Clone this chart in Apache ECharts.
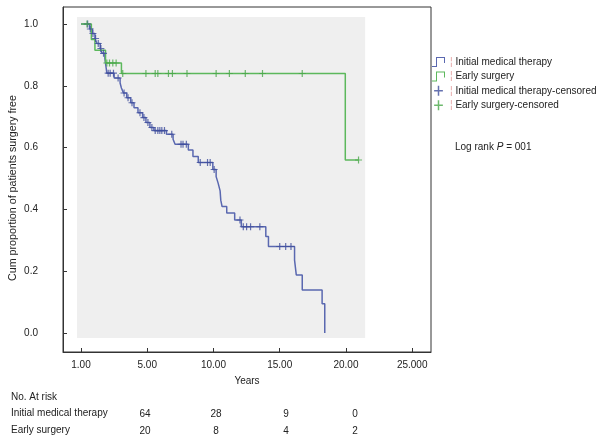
<!DOCTYPE html>
<html>
<head>
<meta charset="utf-8">
<script src="https://cdn.jsdelivr.net/npm/echarts@6/dist/echarts.min.js"></script>
<style>html,body{margin:0;padding:0;background:#fff}#c{width:601px;height:442px}</style>
</head>
<body>
<div id="c"></div>
<script>
// ---- data ----
const xTickVals = [0, 5, 10, 15, 20, 25];
const xTickLabels = ['1.00', '5.00', '10.00', '15.00', '20.00', '25.000'];
const yTickVals = [0, 0.2, 0.4, 0.6, 0.8, 1.0];

// Initial medical therapy: step points (time, survival after event)
const medTimes = [0, 0.65, 0.85, 1.05, 1.2, 1.45, 1.6, 1.8, 1.9, 1.95, 2.5, 2.95, 3.05, 3.2, 3.45, 3.75, 4.0, 4.3, 4.65, 4.9, 5.2, 5.5, 6.45, 6.95, 7.1, 8.1, 8.45, 8.85, 9.95, 10.2, 10.35, 10.5, 10.55, 10.65, 11.0, 11.6, 12.1, 13.95, 14.15, 16.12, 16.25, 16.7, 18.2, 18.4];
const medSurv  = [1, 0.984, 0.969, 0.953, 0.937, 0.921, 0.905, 0.889, 0.857, 0.841, 0.825, 0.809, 0.793, 0.777, 0.761, 0.745, 0.729, 0.713, 0.697, 0.681, 0.665, 0.655, 0.643, 0.627, 0.611, 0.592, 0.571, 0.552, 0.529, 0.506, 0.485, 0.46, 0.43, 0.409, 0.388, 0.366, 0.344, 0.312, 0.28, 0.236, 0.188, 0.139, 0.095, 0];
const medCensored = [0.5, 0.7, 0.9, 1.1, 1.3, 1.5, 1.7, 2.05, 2.2, 2.45, 2.8, 3.25, 3.55, 3.85, 4.45, 4.75, 5.05, 5.35, 5.6, 5.8, 5.95, 6.1, 6.3, 6.85, 7.55, 7.7, 7.95, 9.0, 9.55, 9.75, 10.05, 12.0, 12.25, 12.5, 12.8, 13.5, 15.0, 15.45, 15.85];

// Early surgery
const surgTimes = [0, 0.78, 1.05, 1.85, 3.05, 19.95, 20.95];
const surgSurv  = [1, 0.95, 0.915, 0.874, 0.84, 0.56, 0.56];
const surgCensored = [0.45, 1.95, 2.15, 2.4, 2.65, 3.15, 4.9, 5.6, 5.8, 6.6, 6.9, 8.0, 10.2, 11.2, 12.4, 13.7, 16.7, 20.95];

// Numbers at risk
const riskHeader = 'No. At risk';
const riskGroups = ['Initial medical therapy', 'Early surgery'];
const riskMed = [64, 28, 9, 0];
const riskSurg = [20, 8, 4, 2];

// ---- helpers ----
function pairs(ts, ss) { return ts.map((t, i) => [t, ss[i]]); }
function survAt(ts, ss, t) { let s = ss[0]; for (let i = 0; i < ts.length; i++) { if (ts[i] <= t) s = ss[i]; } return s; }
function censPts(cs, ts, ss) { return cs.map(t => [t, survAt(ts, ss, t)]); }

const BLUE = '#5A68B0', BLUE_D = '#3E4D9C', GREEN = '#5CB85C', GREEN_D = '#4AA84A';
const FONT = 'Liberation Sans';
const plusPath = 'path://M-0.6,-4h1.2v8h-1.2z M-3.5,-0.6h7v1.2h-7z';
const stepPath = 'path://M0,9H4V0H13V6H12V1H5V10H0Z';

const chart = echarts.init(document.getElementById('c'), null, { renderer: 'canvas' });
const riskX = [145, 216, 286, 355];
const graphics = [
  { type: 'text', left: 11, top: 392, style: { text: riskHeader, font: '10px ' + FONT, fill: '#222' } },
  { type: 'text', left: 11, top: 408, style: { text: riskGroups[0], font: '10px ' + FONT, fill: '#222' } },
  { type: 'text', left: 11, top: 425, style: { text: riskGroups[1], font: '10px ' + FONT, fill: '#222' } },
  { type: 'text', left: 8, top: 95, rotation: Math.PI / 2,
    style: { text: 'Cum proportion of patients surgery free', font: '10.7px ' + FONT, fill: '#222' } },
  { type: 'text', left: 455, top: 142, style: { text: '{n|Log rank }{i|P}{n| = 001}', rich: { n: { font: '10px ' + FONT, fill: '#222' }, i: { font: 'italic 10px ' + FONT, fill: '#222' } } } }
];
riskMed.forEach((v, i) => graphics.push({ type: 'text', x: riskX[i], y: 414, style: { text: String(v), font: '10px ' + FONT, fill: '#222', textAlign: 'center', textVerticalAlign: 'middle' } }));
riskSurg.forEach((v, i) => graphics.push({ type: 'text', x: riskX[i], y: 431, style: { text: String(v), font: '10px ' + FONT, fill: '#222', textAlign: 'center', textVerticalAlign: 'middle' } }));

chart.setOption({
  animation: false,
  textStyle: { fontFamily: FONT },
  grid: { left: 63, top: 7, width: 368, height: 345, show: true, borderColor: '#333', borderWidth: 1, backgroundColor: 'transparent' },
  xAxis: {
    type: 'value', min: -1.36, max: 26.42,
    name: 'Years', nameLocation: 'middle', nameGap: 24,
    nameTextStyle: { fontSize: 10, color: '#222', fontFamily: FONT },
    axisLine: { show: true, onZero: false, lineStyle: { color: '#333', width: 1 } },
    axisTick: { show: true, inside: true, length: 4, customValues: xTickVals, lineStyle: { color: '#333' } },
    axisLabel: { customValues: xTickVals, margin: 8, fontSize: 10, color: '#222', fontFamily: FONT,
      formatter: v => { const i = xTickVals.indexOf(v); return i >= 0 ? xTickLabels[i] : ''; } },
    splitLine: { show: false }
  },
  yAxis: {
    type: 'value', min: -0.0615, max: 1.055,
    axisLine: { show: true, onZero: false, lineStyle: { color: '#333', width: 1 } },
    axisTick: { show: true, inside: true, length: 4, customValues: yTickVals, lineStyle: { color: '#333' } },
    axisLabel: { customValues: yTickVals, margin: 25, fontSize: 10, color: '#222', fontFamily: FONT,
      formatter: v => v.toFixed(1) },
    splitLine: { show: false }
  },
  legend: {
    orient: 'vertical', left: 432, top: 57, padding: 0, itemWidth: 13, itemHeight: 10, itemGap: 4.4,
    selectedMode: false,
    textStyle: { fontSize: 10, color: '#222', fontFamily: FONT, rich: { t: { color: '#E3A0A0', fontSize: 10 } } },
    formatter: n => '{t|¦} ' + n,
    data: [
      { name: 'Initial medical therapy', icon: stepPath, itemStyle: { color: BLUE } },
      { name: 'Early surgery', icon: stepPath, itemStyle: { color: GREEN } },
      { name: 'Initial medical therapy-censored', icon: plusPath, itemStyle: { color: BLUE_D } },
      { name: 'Early surgery-censored', icon: plusPath, itemStyle: { color: GREEN_D } }
    ]
  },
  graphic: graphics,
  series: [
    { type: 'line', name: '__bg', data: [], z: 0, silent: true,
      markArea: { silent: true, itemStyle: { color: '#EFEFEF' },
        data: [[{ coord: [-0.3, -0.016] }, { coord: [21.45, 1.023] }]] } },
    { type: 'line', name: 'Initial medical therapy', step: 'end', data: pairs(medTimes, medSurv),
      showSymbol: false, z: 2, lineStyle: { color: BLUE, width: 1.5 }, itemStyle: { color: BLUE } },
    { type: 'line', name: 'Early surgery', step: 'end', data: pairs(surgTimes, surgSurv),
      showSymbol: false, z: 3, lineStyle: { color: GREEN, width: 1.5 }, itemStyle: { color: GREEN } },
    { type: 'scatter', name: 'Initial medical therapy-censored', data: censPts(medCensored, medTimes, medSurv),
      symbol: plusPath, symbolSize: 7, z: 4, itemStyle: { color: BLUE_D } },
    { type: 'scatter', name: 'Early surgery-censored', data: censPts(surgCensored, surgTimes, surgSurv),
      symbol: plusPath, symbolSize: 7, z: 5, itemStyle: { color: GREEN_D } }
  ]
});
</script>
</body>
</html>
